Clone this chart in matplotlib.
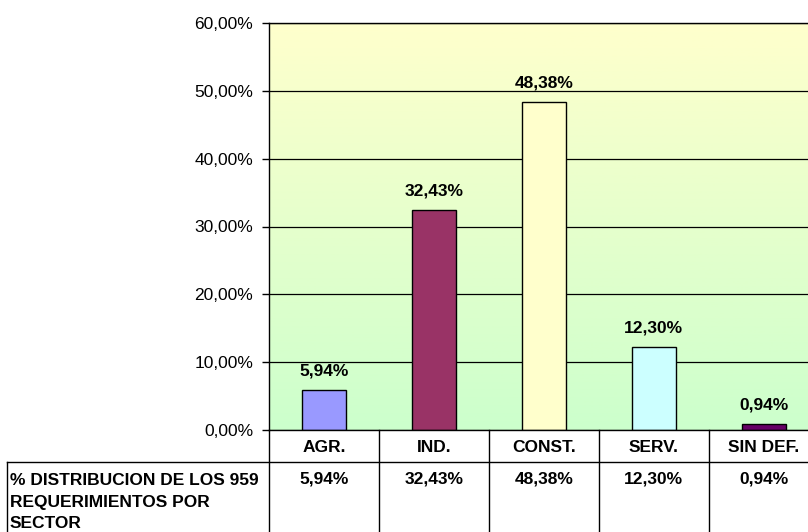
import matplotlib
matplotlib.use("Agg")
import matplotlib.pyplot as plt
import numpy as np
from matplotlib.lines import Line2D
import matplotlib.transforms as mtransforms

# data
sectors = ["AGR.", "IND.", "CONST.", "SERV.", "SIN DEF."]
shares = [5.94, 32.43, 48.38, 12.30, 0.94]
row_label = ["% DISTRIBUCION DE LOS 959", "REQUERIMIENTOS POR", "SECTOR"]
bar_colors = ["#9999FF", "#993366", "#FFFFCC", "#CCFFFF", "#660066"]
y_ticks = [0, 10, 20, 30, 40, 50, 60]

plt.rcParams["font.family"] = ["Liberation Sans", "DejaVu Sans"]

W, H = 808, 532
fig = plt.figure(figsize=(W / 100, H / 100), dpi=100)

# plot area in pixels (right edge runs past the image like the original)
px_left, px_right, px_top, px_bottom = 269, 818.5, 23, 430
ax = fig.add_axes([px_left / W, 1 - px_bottom / H,
                   (px_right - px_left) / W, (px_bottom - px_top) / H])

def pct(v):
    return ("%.2f%%" % v).replace(".", ",")

# yellow -> green gradient background
grad = np.linspace(1, 0, 256).reshape(-1, 1)
top_c = np.array([255, 255, 204]) / 255
bot_c = np.array([204, 255, 204]) / 255
img = grad[..., None] * top_c + (1 - grad[..., None]) * bot_c
ax.imshow(img, extent=(0, 1, 0, 1), transform=ax.transAxes, aspect="auto", zorder=0)

x = np.arange(len(sectors))
ax.bar(x, shares, width=0.4, color=bar_colors, edgecolor="black", linewidth=1, zorder=2)

for xi, v in zip(x, shares):
    ax.annotate(pct(v), (xi, v), xytext=(0, 13.5), textcoords="offset points",
                ha="center", va="center", fontsize=12.5, fontweight="bold")

ax.set_xlim(-0.5, len(sectors) - 0.5)
ax.set_ylim(0, 60)
ax.set_yticks(y_ticks)
ax.set_yticklabels([pct(t) for t in y_ticks], fontsize=12.5)
ax.set_xticks([])
ax.yaxis.grid(True, color="black", linewidth=0.9)
ax.set_axisbelow(True)
ax.tick_params(axis="y", length=5, width=1, pad=6.5, color="black")
ax.spines["right"].set_visible(False)
for s in ["left", "top", "bottom"]:
    ax.spines[s].set_linewidth(1)
    ax.spines[s].set_color("black")

# data table below the axis
def fy(py):
    return 1 - py / H

def fx(px):
    return px / W

row_mid, row_bot = 462, 540
lines = [
    ((fx(7), fx(W + 20)), (fy(row_mid), fy(row_mid))),
    ((fx(7), fx(7)), (fy(row_mid), fy(row_bot))),
]
col_w = (px_right - px_left) / len(sectors)
for i in range(len(sectors)):
    xp = px_left + i * col_w
    lines.append(((fx(xp), fx(xp)), (fy(px_bottom), fy(row_bot))))
for xs, ys in lines:
    fig.add_artist(Line2D(xs, ys, color="black", linewidth=1))

trans = mtransforms.blended_transform_factory(ax.transData, fig.transFigure)
for xi, name, v in zip(x, sectors, shares):
    ax.text(xi, fy(447), name, transform=trans, ha="center", va="center",
            fontsize=12.5, fontweight="bold", clip_on=False)
    ax.text(xi, fy(479), pct(v), transform=trans, ha="center", va="center",
            fontsize=12.5, fontweight="bold", clip_on=False)

for k, line in enumerate(row_label):
    fig.text(fx(10), fy(485 + 21.5 * k), line, ha="left", va="baseline",
             fontsize=12.5, fontweight="bold")

fig.savefig("out.png", dpi=100)
